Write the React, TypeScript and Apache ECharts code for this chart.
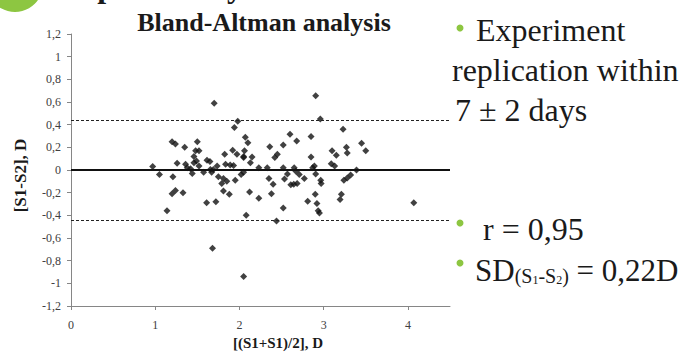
import React, { useEffect, useRef } from 'react';
import * as echarts from 'echarts';

// Mean of the two sessions [(S1+S2)/2], D
const meanValues: number[] = [
  0.97, 1.05, 1.14, 1.2, 1.24, 1.35, 1.21, 1.26, 1.36, 1.38,
  1.42, 1.44, 1.2, 1.24, 1.33, 1.5, 1.48, 1.52, 1.46, 1.49,
  1.46, 1.52, 1.575, 1.615, 1.65, 1.655, 1.69, 1.735, 1.67, 1.61,
  1.72, 1.68, 1.7, 1.75, 1.79, 1.81, 1.85, 1.88, 1.825, 1.92,
  1.97, 1.835, 1.89, 1.93, 1.95, 2.02, 2.05, 2.06, 2.07, 2.1,
  1.98, 1.94, 2.15, 2.13, 2.12, 2.08, 2.05, 2.23, 2.23, 2.33,
  2.35, 2.4, 2.38, 2.36, 2.42, 2.45, 2.44, 2.52, 2.52, 2.535,
  2.52, 2.57, 2.6, 2.61, 2.65, 2.67, 2.645, 2.685, 2.68, 2.71,
  2.77, 2.85, 2.85, 2.89, 2.87, 2.905, 2.905, 2.96, 2.965, 2.97,
  2.81, 2.9, 2.92, 2.935, 2.95, 3.1, 3.15, 3.09, 3.13, 3.23,
  3.27, 3.28, 3.24, 3.28, 3.32, 3.39, 3.21, 3.195, 3.45, 3.5,
  4.07, 1.81, 2.05, 2.05,
];

// Difference between sessions [S1-S2], D
const diffValues: number[] = [
  0.03, -0.04, -0.36, 0.25, 0.23, 0.2, -0.06, 0.06, 0.05, 0.02,
  0.01, -0.03, -0.21, -0.18, -0.2, 0.25, 0.17, 0.17, 0.12, 0.08,
  0.065, 0.035, -0.02, 0.085, 0.075, 0.005, 0.005, 0.035, -0.02, -0.29,
  -0.28, -0.69, 0.59, -0.06, -0.12, -0.185, -0.1, -0.215, 0.14, 0.175,
  0.14, 0.05, 0.045, 0.04, -0.09, -0.04, 0.11, 0.17, 0.29, 0.24,
  0.43, 0.375, 0.115, 0.065, -0.195, -0.4, -0.94, 0.02, -0.25, 0.02,
  -0.075, -0.125, -0.21, 0.205, 0.11, 0.14, -0.45, 0.22, 0.02, -0.08,
  -0.335, -0.035, 0.315, -0.13, 0.02, -0.01, -0.125, -0.12, 0.255, -0.04,
  -0.075, 0.115, 0.295, 0.035, 0.02, -0.035, 0.655, 0.45, -0.09, -0.12,
  -0.275, -0.215, -0.295, -0.36, -0.38, 0.17, 0.13, 0.055, 0.035, 0.36,
  0.2, 0.15, -0.09, -0.07, -0.045, 0.0, -0.215, -0.26, 0.235, 0.17,
  -0.29, -0.075, -0.02, 0.12,
];

const meanDifference = 0;
const limitsOfAgreement: number[] = [0.44, -0.44];

const xTickValues: number[] = [0, 1, 2, 3, 4];

const titleText = 'Bland-Altman analysis';
const xAxisTitle = '[(S1+S1)/2], D';
const yAxisTitle = '[S1-S2], D';

const FONT = 'Liberation Serif';
const GREEN = '#8DC641';
const INK = '#1a1a1a';
const AXIS_GRAY = '#868686';

const fmt = (v: number) => String(Math.round(v * 10) / 10).replace('.', ',');

const slideText = (text: string, x: number, y: number, size = 32, weight: string = 'normal') => ({
  type: 'text',
  x,
  y,
  style: {
    text,
    fontFamily: FONT,
    fontSize: size,
    fontWeight: weight,
    fill: INK,
    verticalAlign: 'middle',
  },
});

export default function App() {
  const ref = useRef<HTMLDivElement>(null);

  useEffect(() => {
    if (!ref.current) return;
    const chart = echarts.init(ref.current, null, { renderer: 'svg' });

    const points = meanValues.map((m, i) => [m, diffValues[i]]);

    const option: any = {
      animation: false,
      backgroundColor: '#ffffff',
      textStyle: { fontFamily: FONT },
      title: {
        text: titleText,
        left: 259,
        top: 4,
        textAlign: 'center',
        textStyle: { fontFamily: FONT, fontWeight: 'bold', fontSize: 26, color: INK },
      },
      grid: { left: 71, right: 245, top: 34, bottom: 50 },
      xAxis: {
        type: 'value',
        min: 0,
        max: 4.5,
        name: xAxisTitle,
        nameLocation: 'middle',
        nameGap: 23,
        nameTextStyle: {
          fontFamily: FONT,
          fontWeight: 'bold',
          fontSize: 15,
          color: INK,
          padding: [0, 0, 0, 35],
        },
        axisLine: { show: true, onZero: false, lineStyle: { color: AXIS_GRAY, width: 1 } },
        axisTick: { show: true, length: 4, lineStyle: { color: AXIS_GRAY }, customValues: xTickValues },
        axisLabel: {
          fontFamily: FONT,
          fontSize: 12,
          color: '#404040',
          margin: 13,
          customValues: xTickValues,
          formatter: (v: number) => fmt(v),
        },
        splitLine: { show: false },
      },
      yAxis: {
        type: 'value',
        min: -1.2,
        max: 1.2,
        interval: 0.2,
        name: yAxisTitle,
        nameLocation: 'middle',
        nameRotate: 90,
        nameGap: 42,
        nameTextStyle: {
          fontFamily: FONT,
          fontWeight: 'bold',
          fontSize: 17,
          color: INK,
          padding: [0, 11, 0, 0],
        },
        axisLine: { show: true, onZero: false, lineStyle: { color: AXIS_GRAY, width: 1 } },
        axisTick: { show: true, length: 4, lineStyle: { color: AXIS_GRAY } },
        axisLabel: {
          fontFamily: FONT,
          fontSize: 12,
          color: '#404040',
          margin: 10,
          formatter: (v: number) => fmt(v),
        },
        splitLine: { show: false },
      },
      series: [
        {
          type: 'scatter',
          symbol: 'diamond',
          symbolSize: 7,
          itemStyle: { color: '#111111' },
          data: points,
          markLine: {
            silent: true,
            symbol: ['none', 'none'],
            label: { show: false },
            animation: false,
            data: [
              { yAxis: meanDifference, lineStyle: { type: 'solid', width: 2, color: '#111111' } },
              ...limitsOfAgreement.map((v) => ({
                yAxis: v,
                lineStyle: { type: [3, 2], width: 1, color: '#222222' },
              })),
            ],
          },
        },
      ],
      graphic: [
        { type: 'circle', shape: { cx: 15, cy: -16, r: 28 }, style: { fill: GREEN } },
        slideText('Repeatability', 60, -14, 32, 'bold'),
        { type: 'circle', shape: { cx: 460, cy: 28, r: 3.5 }, style: { fill: GREEN } },
        slideText('Experiment', 476, 29.5),
        slideText('replication within', 452, 69.5),
        slideText('7 ± 2 days', 455, 109.5),
        { type: 'circle', shape: { cx: 460, cy: 223, r: 3.5 }, style: { fill: GREEN } },
        slideText('r = 0,95', 483, 228.5),
        { type: 'circle', shape: { cx: 460, cy: 263, r: 3.5 }, style: { fill: GREEN } },
        {
          type: 'text',
          x: 475,
          y: 286,
          style: {
            text: '{a|SD}{b|(S}{c|1}{b|-S}{c|2}{b|)}{a| = 0,22D}',
            fontFamily: FONT,
            fontSize: 31,
            verticalAlign: 'bottom',
            fill: INK,
            rich: {
              a: { fontFamily: FONT, fontSize: 31, fill: INK, verticalAlign: 'bottom' },
              b: { fontFamily: FONT, fontSize: 20, fill: INK, verticalAlign: 'bottom' },
              c: { fontFamily: FONT, fontSize: 12, fill: INK, verticalAlign: 'bottom' },
            },
          },
        },
      ],
    };

    chart.setOption(option);
    return () => chart.dispose();
  }, []);

  return (
    <div
      ref={ref}
      style={{ position: 'fixed', left: 0, top: 0, width: 695, height: 356, background: '#ffffff' }}
    />
  );
}
